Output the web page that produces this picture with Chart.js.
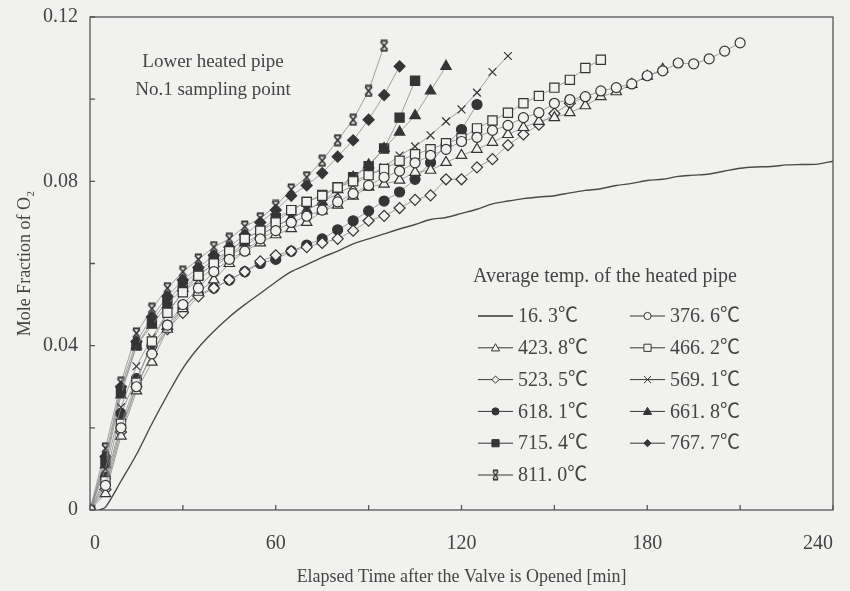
<!DOCTYPE html>
<html>
<head>
<meta charset="utf-8">
<script src="https://cdn.jsdelivr.net/npm/chart.js@4.4.1/dist/chart.umd.min.js"></script>
<style>
html, body { margin: 0; padding: 0; background: #f1f1ef; }
</style>
</head>
<body>
<canvas id="chart" width="850" height="591"></canvas>
<script>
// sampling times [min], one point every 5 min
const minutes = [0, 5, 10, 15, 20, 25, 30, 35, 40, 45, 50, 55, 60, 65, 70, 75, 80, 85, 90, 95,
  100, 105, 110, 115, 120, 125, 130, 135, 140, 145, 150, 155, 160, 165, 170, 175, 180, 185, 190, 195,
  200, 205, 210, 215, 220, 225, 230, 235, 240];
// the unheated run is a continuous trace
const lineMinutes = [3, 5, 10, 15, 20, 25, 30, 35, 40, 45, 50, 55, 60, 65, 70, 75, 80, 85, 90, 95,
  100, 105, 110, 115, 120, 125, 130, 135, 140, 145, 150, 155, 160, 165, 170, 175, 180, 185, 190, 195,
  200, 205, 210, 215, 220, 225, 230, 235, 240];

const seriesLabels = ['16. 3℃', '376. 6℃', '423. 8℃', '466. 2℃', '523. 5℃', '569. 1℃',
  '618. 1℃', '661. 8℃', '715. 4℃', '767. 7℃', '811. 0℃'];

// mole fraction of O2
const t163 = [0, 0.0007, 0.007, 0.0135, 0.021, 0.028, 0.0345, 0.0395, 0.0435, 0.047, 0.050, 0.0527,
  0.0555, 0.058, 0.0597, 0.0615, 0.063, 0.0648, 0.066, 0.0672, 0.0684, 0.0695, 0.0707, 0.0712, 0.0722,
  0.0732, 0.0745, 0.0752, 0.0758, 0.0762, 0.0765, 0.0772, 0.0778, 0.0782, 0.079, 0.0795, 0.0802,
  0.0805, 0.0812, 0.0815, 0.0818, 0.0825, 0.0832, 0.0835, 0.0836, 0.084, 0.0841, 0.0842, 0.0849];
const t3766 = [0, 0.006, 0.020, 0.030, 0.038, 0.045, 0.050, 0.054, 0.058, 0.061, 0.063, 0.066,
  0.068, 0.070, 0.0715, 0.073, 0.075, 0.077, 0.079, 0.081, 0.0825, 0.0845, 0.0863, 0.0878, 0.0897,
  0.0907, 0.0924, 0.0936, 0.0955, 0.0967, 0.099, 0.0999, 0.1006, 0.102, 0.1028, 0.1037, 0.1057,
  0.1069, 0.1088, 0.1086, 0.1098, 0.1117, 0.1137];
const t4238 = [0, 0.004, 0.018, 0.029, 0.036, 0.044, 0.049, 0.053, 0.056, 0.060, 0.063, 0.065,
  0.067, 0.0685, 0.070, 0.0728, 0.0742, 0.0764, 0.0786, 0.0793, 0.0803, 0.0822, 0.0827, 0.0846,
  0.0863, 0.0878, 0.0895, 0.0914, 0.0931, 0.0946, 0.0955, 0.0967, 0.0984, 0.1006, 0.1018, 0.1036,
  0.1056, 0.1073];
const t4662 = [0, 0.007, 0.021, 0.031, 0.041, 0.048, 0.053, 0.057, 0.060, 0.063, 0.066, 0.068,
  0.070, 0.073, 0.075, 0.0765, 0.0785, 0.080, 0.0815, 0.083, 0.085, 0.0866, 0.0878, 0.0893, 0.0905,
  0.0929, 0.0948, 0.0967, 0.099, 0.1008, 0.1028, 0.1047, 0.1076, 0.1096];
const t5235 = [0, 0.005, 0.019, 0.030, 0.038, 0.044, 0.048, 0.052, 0.054, 0.056, 0.058, 0.0605,
  0.062, 0.063, 0.064, 0.065, 0.066, 0.068, 0.0704, 0.0716, 0.0735, 0.0755, 0.0766, 0.0805, 0.0805,
  0.0834, 0.0854, 0.0888, 0.0914, 0.0938, 0.0965, 0.099, 0.1005];
const t5691 = [0, 0.010, 0.025, 0.035, 0.042, 0.048, 0.053, 0.056, 0.059, 0.062, 0.064, 0.067,
  0.069, 0.071, 0.073, 0.075, 0.077, 0.079, 0.0815, 0.0834, 0.0863, 0.0885, 0.0912, 0.0946, 0.0975,
  0.1016, 0.1066, 0.1105];
const t6181 = [0, 0.008, 0.0235, 0.032, 0.040, 0.045, 0.049, 0.0525, 0.054, 0.056, 0.058, 0.060,
  0.061, 0.063, 0.0645, 0.066, 0.0682, 0.0704, 0.0728, 0.0752, 0.0774, 0.0805, 0.0846, 0.0888,
  0.0926, 0.0987];
const t6618 = [0, 0.011, 0.028, 0.040, 0.045, 0.050, 0.054, 0.057, 0.060, 0.062, 0.065, 0.067,
  0.069, 0.071, 0.073, 0.075, 0.078, 0.081, 0.084, 0.088, 0.092, 0.096, 0.102, 0.108];
const t7154 = [0, 0.012, 0.029, 0.040, 0.046, 0.051, 0.055, 0.058, 0.061, 0.063, 0.066, 0.068,
  0.071, 0.073, 0.075, 0.0767, 0.0786, 0.081, 0.0837, 0.088, 0.0955, 0.1045];
const t7677 = [0, 0.013, 0.030, 0.041, 0.047, 0.052, 0.056, 0.059, 0.062, 0.064, 0.067, 0.070,
  0.073, 0.0765, 0.079, 0.082, 0.086, 0.090, 0.095, 0.101, 0.108];
const t8110 = [0, 0.015, 0.031, 0.043, 0.049, 0.054, 0.058, 0.061, 0.064, 0.066, 0.069, 0.071,
  0.074, 0.078, 0.081, 0.085, 0.090, 0.095, 0.102, 0.113];

const xTicks = [0, 60, 120, 180, 240];
const yTicks = [0, 0.04, 0.08, 0.12];

const BG = '#f1f1ef';
const INK = '#353535';
const FONT = '"Liberation Serif", "Noto Sans CJK JP", serif';

// 811 C marker: an x with a bar on top and bottom
const barX = document.createElement('canvas');
barX.width = 13; barX.height = 13;
(function () {
  const m = barX.getContext('2d');
  m.strokeStyle = INK; m.lineWidth = 1.8;
  m.beginPath();
  m.moveTo(3, 2.5); m.lineTo(10, 10.5); m.moveTo(10, 2.5); m.lineTo(3, 10.5);
  m.moveTo(3, 1.5); m.lineTo(10, 1.5); m.moveTo(3, 11.5); m.lineTo(10, 11.5);
  m.stroke();
})();

// marker style per series (same order as seriesLabels)
const markStyle = [null, 'circle', 'triangle', 'rect', 'rectRot', 'crossRot',
  'circle', 'triangle', 'rect', 'rectRot', barX];
const markFilled = [false, false, false, false, false, false, true, true, true, true, true];
const markRadius = [0, 5, 6, 6.5, 5.5, 5.5, 5, 6, 6.5, 5.5, 6.5];
const seriesValues = [t163, t3766, t4238, t4662, t5235, t5691, t6181, t6618, t7154, t7677, t8110];

function pairs(times, vals) {
  return vals.map((v, i) => ({ x: times[i], y: v }));
}

const datasets = seriesValues.map((vals, i) => {
  if (i === 0) {
    return {
      label: seriesLabels[0], data: pairs(lineMinutes, vals), showLine: true,
      borderColor: '#4a4a4a', borderWidth: 1.4, pointRadius: 0, tension: 0.3
    };
  }
  return {
    label: seriesLabels[i], data: pairs(minutes, vals), showLine: true,
    borderColor: '#8a8a8a', borderWidth: 0.8,
    pointStyle: markStyle[i], pointRadius: markRadius[i], pointHoverRadius: markRadius[i],
    pointBorderColor: INK, pointBorderWidth: 1.2,
    pointBackgroundColor: markFilled[i] ? INK : BG
  };
});

// small legend symbol drawn by hand
function drawSymbol(ctx, i, x, y) {
  const st = markStyle[i];
  const r = 3.6;
  ctx.save();
  ctx.strokeStyle = INK; ctx.fillStyle = markFilled[i] ? INK : BG; ctx.lineWidth = 1;
  ctx.beginPath();
  if (st === 'circle') {
    ctx.arc(x, y, r, 0, Math.PI * 2);
  } else if (st === 'triangle') {
    ctx.moveTo(x, y - r - 0.5); ctx.lineTo(x + r + 0.5, y + r - 0.5); ctx.lineTo(x - r - 0.5, y + r - 0.5); ctx.closePath();
  } else if (st === 'rect') {
    ctx.rect(x - r, y - r, 2 * r, 2 * r);
  } else if (st === 'rectRot') {
    ctx.moveTo(x, y - r); ctx.lineTo(x + r, y); ctx.lineTo(x, y + r); ctx.lineTo(x - r, y); ctx.closePath();
  } else if (st === 'crossRot') {
    ctx.moveTo(x - r, y - r); ctx.lineTo(x + r, y + r); ctx.moveTo(x + r, y - r); ctx.lineTo(x - r, y + r);
    ctx.stroke(); ctx.restore(); return;
  } else {
    ctx.drawImage(barX, x - 5, y - 6, 10, 12);
    ctx.restore(); return;
  }
  ctx.fill(); ctx.stroke();
  ctx.restore();
}

const decor = {
  id: 'decor',
  afterDraw(chart) {
    const { ctx, chartArea: a, scales: { x, y } } = chart;
    ctx.save();
    // frame and inward ticks
    ctx.strokeStyle = '#555'; ctx.lineWidth = 1.3;
    ctx.strokeRect(a.left, a.top, a.right - a.left, a.bottom - a.top);
    ctx.beginPath();
    x.ticks.forEach(t => {
      const px = x.getPixelForValue(t.value);
      ctx.moveTo(px, a.bottom); ctx.lineTo(px, a.bottom - 5);
    });
    y.ticks.forEach(t => {
      const py = y.getPixelForValue(t.value);
      ctx.moveTo(a.left, py); ctx.lineTo(a.left + 5, py);
    });
    ctx.stroke();

    // annotation
    ctx.fillStyle = '#444';
    ctx.textBaseline = 'middle';
    ctx.textAlign = 'center';
    ctx.font = '19px ' + FONT;
    ctx.fillText('Lower heated pipe', 213, 62);
    ctx.fillText('No.1 sampling point', 213, 90);

    // legend
    ctx.textAlign = 'left';
    ctx.font = '20px ' + FONT;
    ctx.fillText('Average temp. of the heated pipe', 473, 277);
    const colX = [478, 630];
    seriesLabels.forEach((lab, i) => {
      const cx = colX[i % 2];
      const cy = 316 + Math.floor(i / 2) * 31.8;
      ctx.strokeStyle = INK; ctx.lineWidth = i === 0 ? 1.4 : 1;
      ctx.beginPath(); ctx.moveTo(cx, cy); ctx.lineTo(cx + 35, cy); ctx.stroke();
      if (i > 0) drawSymbol(ctx, i, cx + 17.5, cy);
      ctx.fillStyle = '#444';
      ctx.fillText(lab, cx + 40, cy + 1);
    });
    ctx.restore();
  }
};

new Chart(document.getElementById('chart'), {
  type: 'scatter',
  data: { datasets },
  options: {
    responsive: false,
    animation: false,
    devicePixelRatio: 1,
    layout: { padding: 0 },
    plugins: { legend: { display: false }, tooltip: { enabled: false } },
    scales: {
      x: {
        type: 'linear', min: 0, max: 240,
        // fixed box so the plot frame lands where the original one is
        afterFit: s => { s.height = 81; s.paddingLeft = 0; s.paddingRight = 17; },
        grid: { display: false, drawTicks: false },
        border: { display: false },
        ticks: {
          stepSize: 30, autoSkip: false, maxRotation: 0, padding: 22, align: 'inner',
          color: '#444', font: { family: FONT, size: 20 },
          callback: v => xTicks.includes(v) ? String(v) : ''
        },
        title: {
          display: true, text: 'Elapsed Time after the Valve is Opened [min]',
          color: '#444', font: { family: FONT, size: 18 }, padding: { top: 0, bottom: 3 }
        }
      },
      y: {
        type: 'linear', min: 0, max: 0.12,
        afterFit: s => { s.width = 90; s.paddingTop = 17; s.paddingBottom = 0; },
        grid: { display: false, drawTicks: false },
        border: { display: false },
        ticks: {
          stepSize: 0.02, autoSkip: false, padding: 12,
          color: '#444', font: { family: FONT, size: 20 },
          callback: v => {
            const hit = yTicks.find(t => Math.abs(t - v) < 1e-6);
            return hit === undefined ? '' : (hit === 0 ? '0' : hit.toFixed(2));
          }
        },
        title: {
          display: true, text: 'Mole Fraction of O₂',
          color: '#444', font: { family: FONT, size: 18 }, padding: { top: 14, bottom: 0 }
        }
      }
    }
  },
  plugins: [decor]
});
</script>
</body>
</html>
